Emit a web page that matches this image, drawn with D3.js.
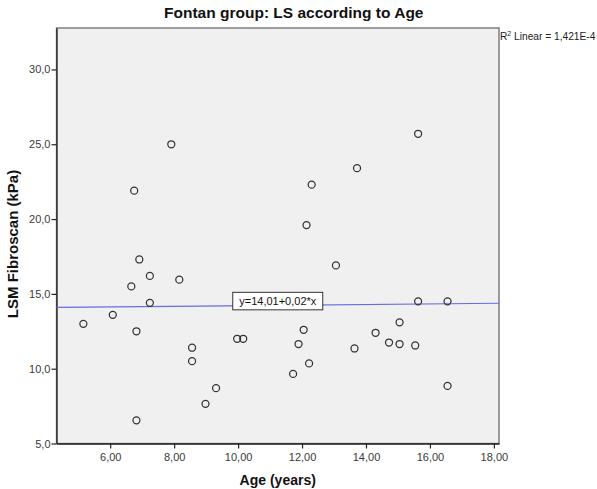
<!DOCTYPE html>
<html>
<head>
<meta charset="utf-8">
<script src="https://cdn.jsdelivr.net/npm/d3@7"></script>
<style>
  html, body { margin: 0; padding: 0; background: #ffffff; }
  svg { display: block; font-family: "Liberation Sans", Arial, sans-serif; }
</style>
</head>
<body>
<svg id="chart" width="597" height="489"></svg>
<script>
// Age (years) of each patient
const ages = [
  7.91, 6.75, 6.91, 7.24, 8.16, 6.66, 7.24, 6.08, 5.16, 6.82,
  9.97, 10.16, 8.56, 8.56, 9.31, 8.98, 6.82,
  15.63, 13.72, 12.30, 12.14, 13.06, 15.63, 16.55, 15.05, 12.05,
  14.30, 11.89, 14.72, 15.05, 15.54, 13.64, 12.22, 11.72, 16.55
];
// Liver stiffness (LSM Fibroscan, kPa) for the same patients
const lsm = [
  25.0, 21.9, 17.3, 16.2, 15.95, 15.5, 14.4, 13.6, 13.0, 12.5,
  12.0, 12.0, 11.4, 10.5, 8.7, 7.65, 6.55,
  25.7, 23.4, 22.3, 19.6, 16.9, 14.5, 14.5, 13.1, 12.6,
  12.4, 11.65, 11.75, 11.65, 11.55, 11.35, 10.35, 9.65, 8.85
];
// Axis ticks and extents
const xTicks = [6, 8, 10, 12, 14, 16, 18];
const yTicks = [5, 10, 15, 20, 25, 30];
const xDomain = [4.32, 18.16];
const yDomain = [5, 32.77];
// Linear fit: y = intercept + slope * x, and its R squared
const fitIntercept = 14.01;
const fitSlope = 0.02;
const rSquared = "1,421E-4";

const svg = d3.select("#chart");
const plotL = 56.5, plotR = 499, plotT = 28, plotB = 443.5;

const x = d3.scaleLinear().domain(xDomain).range([plotL, plotR]);
const y = d3.scaleLinear().domain(yDomain).range([plotB, plotT]);

const comma = (n, d) => n.toFixed(d).replace(".", ",");

// plot background and frame
svg.append("rect")
  .attr("x", plotL).attr("y", plotT)
  .attr("width", plotR - plotL).attr("height", plotB - plotT)
  .attr("fill", "#f0f0f0")
  .attr("stroke", "#6b6b6b").attr("stroke-width", 1.3);

// axes
const yAxis = svg.append("g")
  .attr("transform", `translate(${plotL},0)`)
  .call(d3.axisLeft(y).tickValues(yTicks).tickSize(5).tickSizeOuter(0)
    .tickFormat(d => comma(d, 1)));
const xAxis = svg.append("g")
  .attr("transform", `translate(0,${plotB})`)
  .call(d3.axisBottom(x).tickValues(xTicks).tickSize(5).tickSizeOuter(0)
    .tickFormat(d => comma(d, 2)));

[yAxis, xAxis].forEach(g => {
  g.select(".domain").attr("stroke", "#222").attr("stroke-width", 1.3);
  g.selectAll(".tick line").attr("stroke", "#222").attr("stroke-width", 1.2);
  g.selectAll(".tick text")
    .attr("fill", "#3a3a3a")
    .style("font-size", "11px")
    .style("font-family", "'Liberation Sans', Arial, sans-serif");
});
yAxis.selectAll(".tick text").attr("x", -6);
xAxis.selectAll(".tick text").attr("y", 10);

// fit line
const fitPts = xDomain.map(v => [x(v), y(fitIntercept + fitSlope * v)]);
svg.append("line")
  .attr("x1", fitPts[0][0]).attr("y1", fitPts[0][1])
  .attr("x2", fitPts[1][0]).attr("y2", fitPts[1][1])
  .attr("stroke", "#6a6ae6").attr("stroke-width", 1.2);

// points
svg.append("g")
  .selectAll("circle")
  .data(ages.map((a, i) => [a, lsm[i]]))
  .join("circle")
  .attr("cx", d => x(d[0]))
  .attr("cy", d => y(d[1]))
  .attr("r", 3.5)
  .attr("fill", "none")
  .attr("stroke", "#333")
  .attr("stroke-width", 1.25);

// equation label on the fit line
const midX = (xDomain[0] + xDomain[1]) / 2;
const eqText = `y=${comma(fitIntercept, 2)}+${comma(fitSlope, 2)}*x`;
const eq = svg.append("g")
  .attr("transform", `translate(${x(midX)},${y(fitIntercept + fitSlope * midX) - 4})`);
eq.append("rect")
  .attr("x", -45).attr("y", -9)
  .attr("width", 90).attr("height", 17.5)
  .attr("fill", "#ffffff").attr("stroke", "#333").attr("stroke-width", 1);
eq.append("text")
  .attr("text-anchor", "middle").attr("y", 4)
  .style("font-size", "11px").attr("fill", "#111")
  .text(eqText);

// R squared note
const r2 = svg.append("text")
  .attr("x", plotR + 1).attr("y", 40)
  .style("font-size", "10.2px").attr("fill", "#222");
r2.append("tspan").text("R");
r2.append("tspan").attr("dy", -4).style("font-size", "7px").text("2");
r2.append("tspan").attr("dy", 4).text(` Linear = ${rSquared}`);

// title and axis titles
svg.append("text")
  .attr("x", (plotL + plotR) / 2 + 16).attr("y", 18)
  .attr("text-anchor", "middle")
  .style("font-size", "15.5px").style("font-weight", "bold").attr("fill", "#111")
  .text("Fontan group: LS according to Age");

svg.append("text")
  .attr("x", (plotL + plotR) / 2).attr("y", 485)
  .attr("text-anchor", "middle")
  .style("font-size", "14px").style("font-weight", "bold").attr("fill", "#111")
  .text("Age (years)");

svg.append("text")
  .attr("transform", `translate(18,244) rotate(-90)`)
  .attr("text-anchor", "middle")
  .style("font-size", "15px").style("font-weight", "bold").attr("fill", "#111")
  .text("LSM Fibroscan (kPa)");
</script>
</body>
</html>
